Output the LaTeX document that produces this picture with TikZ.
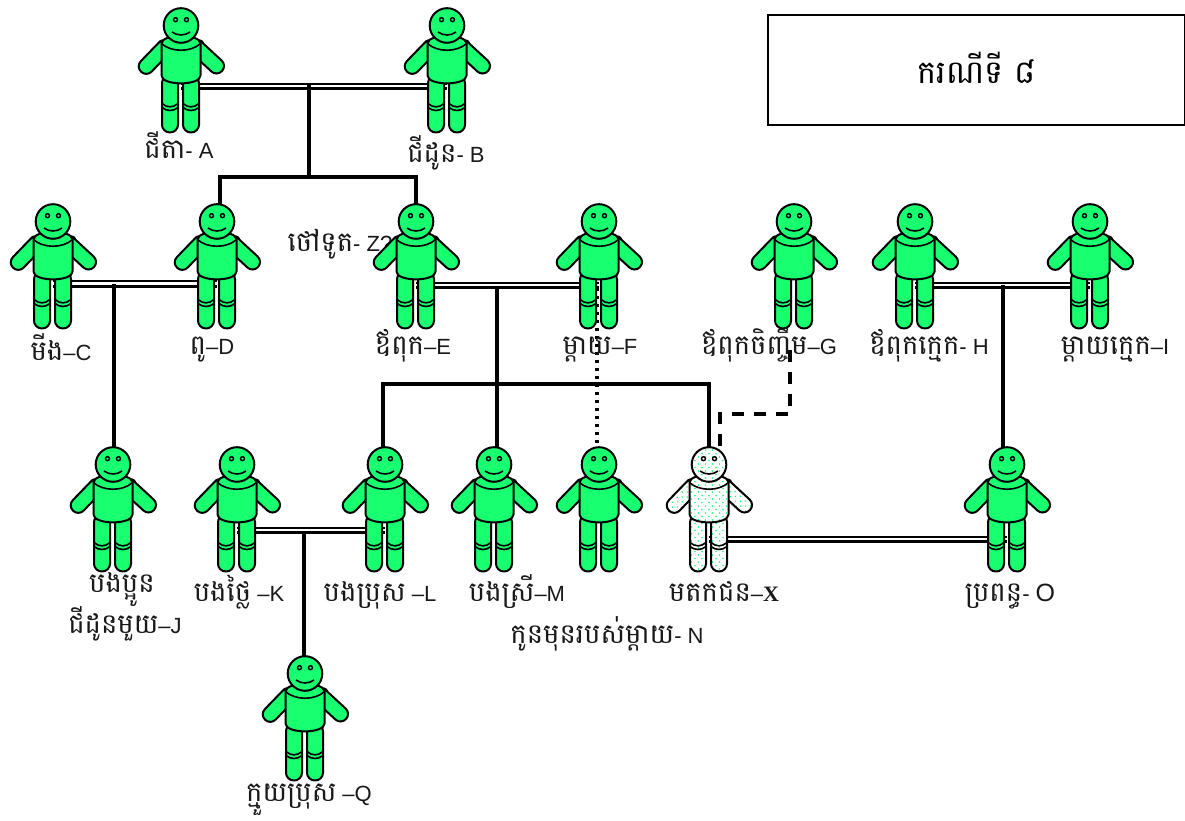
\documentclass[tikz,border=0pt]{standalone}
\usepackage{fontspec}
\setmainfont{Liberation Sans}
\newfontfamily\kmf[Script=Khmer]{Battambang}
\newfontfamily\xserif{Liberation Serif}
\newcommand\km[1]{{\kmf\fontsize{27.5}{30}\selectfont #1}}
\usetikzlibrary{calc}
\definecolor{figgreen}{RGB}{24,255,112}
\newcommand\deaddots{%
  \foreach \i in {-8,...,8}{\foreach \j in {-11,...,11}{%
    \fill[figgreen] (\i*7,\j*7) circle (0.9) (\i*7+3.5,\j*7+3.5) circle (0.9);
  }}%
}
\tikzset{
  x=1pt,y=1pt,
  figpart/.style={draw=black,line width=2pt,fill=figgreen},
  deadpart/.style={draw=black,line width=2pt,fill=white,path picture={\deaddots}},
  personbox/.style={inner sep=0pt,minimum width=88pt,minimum height=125pt},
  lbl/.style={inner sep=0pt,anchor=base,font=\fontsize{22}{24}\selectfont,text=black!90},
  kinline/.style={line width=4pt,line cap=rect},
  dotline/.style={line width=4pt,dash pattern=on 3.5pt off 4.5pt},
  dashline/.style={line width=4pt,dash pattern=on 12pt off 10pt},
  titlebox/.style={draw=black,line width=1.6pt,minimum width=417pt,minimum height=110pt,inner sep=0pt},
  person/.pic={
    % arms
    \path[figpart] (-19,23) ellipse (4 and 7);
    \path[figpart] (19,23) ellipse (4 and 7);
    \begin{scope}[shift={(-17,22.5)},rotate=226]
      \path[figpart,rounded corners=7.4pt] (-7,-7.5) rectangle (33,7.5);
    \end{scope}
    \begin{scope}[shift={(16,22.5)},rotate=-42.7]
      \path[figpart,rounded corners=7.4pt] (-7,-7.5) rectangle (34,7.5);
    \end{scope}
    % legs
    \path[figpart,rounded corners=7.8pt] (-19,-5) -- (-19,-62) -- (-3,-62) -- (-3,-5) -- cycle;
    \path[figpart,rounded corners=7.8pt] (2,-5) -- (2,-62) -- (18,-62) -- (18,-5) -- cycle;
    \draw[line width=1.6pt] (-19,-33) .. controls (-14,-37.5) and (-8,-37.5) .. (-3,-33);
    \draw[line width=1.6pt] (-19,-37) .. controls (-14,-41) and (-8,-41) .. (-3,-37);
    \draw[line width=1.6pt] (2,-33) .. controls (7,-37.5) and (13,-37.5) .. (18,-33);
    \draw[line width=1.6pt] (2,-37) .. controls (7,-41) and (13,-41) .. (18,-37);
    % torso
    \path[figpart] (-19.5,27) .. controls (-19.5,37) and (19.5,37) .. (19.5,27)
       -- (19.5,-5) .. controls (19.5,-15.5) and (-19.5,-15.5) .. (-19.5,-5) -- cycle;
    \draw[line width=1.6pt] (-19.5,27) .. controls (-10,18) and (10,18) .. (19.5,27);
    % head
    \path[figpart] (0,45) circle (17.3);
    \draw[line width=1.4pt] (-5.5,50.8) circle (2);
    \draw[line width=1.4pt] (5.5,50.8) circle (2);
    \draw[line width=1.6pt] (-9,38.5) .. controls (-4,34.5) and (4,34.5) .. (9,38.5);
  }
}
\begin{document}
\begin{tikzpicture}
\useasboundingbox (0,0) rectangle (1185,821);
% person anchors
\node[personbox] (A) at (181,750.5) {};
\node[personbox] (B) at (447,750.5) {};
\node[personbox] (C) at (53,554.5) {};
\node[personbox] (D) at (217,554.5) {};
\node[personbox] (E) at (416,554.5) {};
\node[personbox] (F) at (599,554.5) {};
\node[personbox] (G) at (794,554.5) {};
\node[personbox] (H) at (915,554.5) {};
\node[personbox] (I) at (1090,554.5) {};
\node[personbox] (J) at (113,311.5) {};
\node[personbox] (K) at (237,311.5) {};
\node[personbox] (L) at (385,311.5) {};
\node[personbox] (M) at (494,311.5) {};
\node[personbox] (N) at (599,311.5) {};
\node[personbox] (X) at (709,311.5) {};
\node[personbox] (O) at (1007,311.5) {};
\node[personbox] (Q) at (305,102.5) {};
% junctions
\coordinate (abT) at (309,734);
\coordinate (abS) at (309,644);
\coordinate (cdT) at (114,535);
\coordinate (efT) at (497,533);
\coordinate (hiT) at (1003,534);
\coordinate (klT) at (304,288);
\coordinate (gA) at (790,471);
\coordinate (gB) at (790,407);
\coordinate (gC) at (720,407);
\coordinate (gD) at (720,371);
\coordinate (fA) at (597,533);
\coordinate (nA) at (597,374);
% label behind figure E
\node[lbl] (zl) at (340,569) {\km{ថៅទូត}- Z?};
% marriage lines
\foreach \a/\b/\y in {A/B/734.5,C/D/537,E/F/535.5,H/I/535.5,K/L/290.5,X/O/281.5}{
  \coordinate (p) at (\a.center |- 0,\y);
  \coordinate (q) at (\b.center |- 0,\y);
  \draw[line width=2pt] ($(p)+(0,2.6)$) -- ($(q)+(0,2.6)$);
  \draw[line width=3pt] ($(p)+(0,-2.4)$) -- ($(q)+(0,-2.4)$);
}
% descent lines
\draw[kinline] (abT) -- (abS);
\draw[kinline] (220,644) coordinate (abL) -- (416,644) coordinate (abR);
\draw[kinline] (abL) -- (abL |- D.north);
\draw[kinline] (abR) -- (E.north);
\draw[kinline] (cdT) -- (cdT |- J.north);
\draw[kinline] (efT) -- (efT |- M.north);
\draw[kinline] (383,437) coordinate (sL) -- (709,437) coordinate (sR);
\draw[kinline] (sL) -- (sL |- L.north);
\draw[kinline] (sR) -- (X.north);
\draw[kinline] (hiT) -- (hiT |- O.north);
\draw[kinline] (klT) -- (klT |- Q.north);
% figures
\foreach \n in {A,B,C,D,E,F,G,H,I,J,K,L,M,N,O,Q}{
  \pic at (\n.center) {person};
}
\pic[figpart/.style={deadpart}] at (X.center) {person};
% half and step lines
\draw[dotline] (fA) -- (nA);
\draw[dashline] (gA) -- (gB) -- (gC) -- (gD);
% labels
\node[lbl] (lA) at (179,662) {\km{ជីតា}- A};
\node[lbl] (lB) at (446,658) {\km{ជីដូន}- B};
\node[lbl] (lC) at (61,460) {\km{មីង}–C};
\node[lbl] (lD) at (212,466) {\km{ពូ}–D};
\node[lbl] (lE) at (413,466) {\km{ឪពុក}–E};
\node[lbl] (lF) at (600,466) {\km{ម្តាយ}–F};
\node[lbl] (lG) at (769,466) {\km{ឪពុកចិញ្ចឹម}–G};
\node[lbl] (lH) at (929,466) {\km{ឪពុកក្មេក}- H};
\node[lbl] (lI) at (1115,466) {\km{ម្តាយក្មេក}–I};
\node[lbl] (lJa) at (122,228) {\km{បងប្អូន}};
\node[lbl] (lJb) at (125,187) {\km{ជីដូនមួយ}–J};
\node[lbl] (lK) at (239,219) {\km{បងថ្លៃ} –K};
\node[lbl] (lL) at (380,219) {\km{បងប្រុស} –L};
\node[lbl] (lM) at (517,219) {\km{បងស្រី}–M};
\node[lbl] (lX) at (724,219) {\km{មតកជន}–{\xserif\bfseries X}};
\node[lbl] (lO) at (1010,219) {\km{ប្រពន្ធ}- {\fontsize{25}{25}\selectfont O}};
\node[lbl] (lN) at (607,177) {\km{កូនមុនរបស់ម្តាយ}- N};
\node[lbl] (lQ) at (309,19) {\km{ក្មួយប្រុស} –Q};
\node[titlebox] (title) at (976.5,751) {\raisebox{4pt}{\kmf\fontsize{32}{36}\selectfont ករណីទី ៨}};
\end{tikzpicture}
\end{document}
